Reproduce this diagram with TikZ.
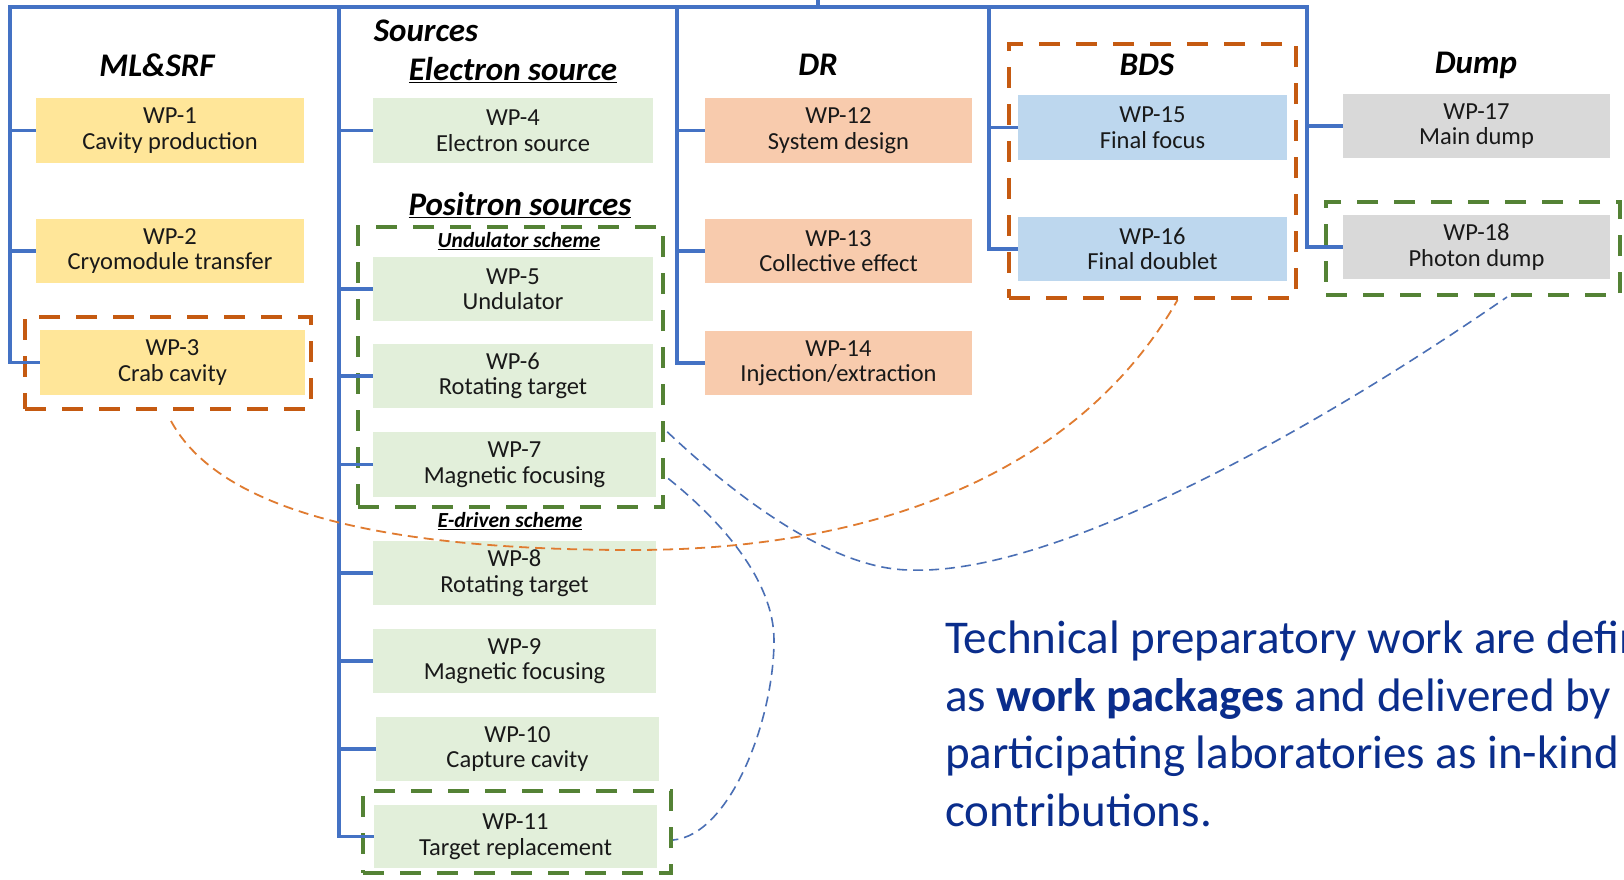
\documentclass[tikz,border=0pt]{standalone}
\usepackage{fontspec}
\setmainfont{Carlito}
\definecolor{treeblue}{HTML}{4472C4}
\definecolor{yel}{HTML}{FFE699}
\definecolor{grn}{HTML}{E2EFDA}
\definecolor{org}{HTML}{F8CBAD}
\definecolor{blu}{HTML}{BDD7EE}
\definecolor{gry}{HTML}{D9D9D9}
\definecolor{oframe}{HTML}{C55A11}
\definecolor{gframe}{HTML}{548235}
\definecolor{ocurve}{HTML}{E07B30}
\definecolor{bcurve}{HTML}{4A6FB5}
\definecolor{txtblue}{RGB}{10,45,140}
\tikzset{
  wp/.style={rectangle, inner sep=0pt, align=center, text=black!90,
    font=\fontsize{24.5}{25.5}\selectfont},
  tree/.style={draw=treeblue, line width=3.6pt},
  oframe/.style={draw=oframe, line width=4pt, dash pattern=on 21pt off 16pt, inner sep=0pt},
  gframe/.style={draw=gframe, line width=4pt, dash pattern=on 21pt off 16pt, inner sep=0pt},
  hdr/.style={font=\fontsize{33}{38}\selectfont\bfseries\itshape, inner sep=0pt},
  subhdr/.style={font=\fontsize{21.5}{25}\selectfont\bfseries\itshape, inner sep=0pt},
  ocon/.style={draw=ocurve, line width=1.8pt, dash pattern=on 10pt off 6pt},
  bcon/.style={draw=bcurve, line width=1.6pt, dash pattern=on 10pt off 6pt},
  para/.style={anchor=base west, inner sep=0pt, text=txtblue, font=\fontsize{47}{58}\selectfont}
}
\begin{document}
\begin{tikzpicture}[x=1pt,y=-1pt]
\useasboundingbox (0,0) rectangle (1624,879);
\clip (0,0) rectangle (1624,879);
\fill[white] (0,0) rectangle (1624,879);

% frames
\node[oframe, minimum width=286pt, minimum height=92pt] (f3) at (168,363) {};
\node[gframe, minimum width=305pt, minimum height=280pt] (fund) at (510.5,367) {};
\node[gframe, minimum width=308pt, minimum height=82pt] (f11) at (517,832) {};
\node[oframe, minimum width=287pt, minimum height=254pt] (fbds) at (1152.5,171) {};
\node[gframe, minimum width=294pt, minimum height=93pt] (fdump) at (1473,248.5) {};

% boxes
\node[wp, fill=yel, minimum width=268pt, minimum height=65pt] (wp1) at (170,130.5) {WP-1\\Cavity production};
\node[wp, fill=yel, minimum width=268pt, minimum height=64pt] (wp2) at (170,251) {WP-2\\Cryomodule transfer};
\node[wp, fill=yel, minimum width=265pt, minimum height=65pt] (wp3) at (172.5,362.5) {WP-3\\Crab cavity};

\node[wp, fill=grn, minimum width=280pt, minimum height=65pt] (wp4) at (513,130.5) {WP-4\\Electron source};
\node[wp, fill=grn, minimum width=280pt, minimum height=64pt] (wp5) at (513,289) {WP-5\\Undulator};
\node[wp, fill=grn, minimum width=280pt, minimum height=64pt] (wp6) at (513,376) {WP-6\\Rotating target};
\node[wp, fill=grn, minimum width=283pt, minimum height=65pt] (wp7) at (514.5,464.5) {WP-7\\Magnetic focusing};
\node[wp, fill=grn, minimum width=283pt, minimum height=64pt] (wp8) at (514.5,573) {WP-8\\Rotating target};
\node[wp, fill=grn, minimum width=283pt, minimum height=64pt] (wp9) at (514.5,661) {WP-9\\Magnetic focusing};
\node[wp, fill=grn, minimum width=283pt, minimum height=64pt] (wp10) at (517.5,749) {WP-10\\Capture cavity};
\node[wp, fill=grn, minimum width=283pt, minimum height=63pt] (wp11) at (515.5,836.5) {WP-11\\Target replacement};

\node[wp, fill=org, minimum width=267pt, minimum height=65pt] (wp12) at (838.5,130.5) {WP-12\\System design};
\node[wp, fill=org, minimum width=267pt, minimum height=64pt] (wp13) at (838.5,251) {WP-13\\Collective effect};
\node[wp, fill=org, minimum width=267pt, minimum height=64pt] (wp14) at (838.5,363) {WP-14\\Injection/extraction};

\node[wp, fill=blu, minimum width=269pt, minimum height=65pt] (wp15) at (1152.5,127.5) {WP-15\\Final focus};
\node[wp, fill=blu, minimum width=269pt, minimum height=64pt] (wp16) at (1152.5,249) {WP-16\\Final doublet};

\node[wp, fill=gry, minimum width=267pt, minimum height=64pt] (wp17) at (1476.5,126) {WP-17\\Main dump};
\node[wp, fill=gry, minimum width=267pt, minimum height=64pt] (wp18) at (1476.5,247) {WP-18\\Photon dump};

% headers
\node[hdr] (hml) at (157,65) {ML\&SRF};
\node[hdr] (hsrc) at (426,31) {Sources};
\node[hdr] (hel) at (513,70) {\underline{Electron source}};
\node[hdr] (hpos) at (520,205) {\underline{Positron sources}};
\node[subhdr] (hund) at (519,241) {\underline{Undulator scheme}};
\node[subhdr] (hedr) at (510,521) {\underline{E-driven scheme}};
\node[hdr] (hdr) at (818,65) {DR};
\node[hdr] (hbds) at (1147,65) {BDS};
\node[hdr] (hdump) at (1476,65) {Dump};

% tree
\coordinate (cml) at (10,7);
\coordinate (csrc) at (339,7);
\coordinate (cdr) at (677,7);
\coordinate (cbds) at (989,7);
\coordinate (cdump) at (1307,7);
\coordinate (ctop) at (818,0);
\draw[tree] ([xshift=-1.8pt]cml) -- ([xshift=1.8pt]cdump);
\draw[tree] (ctop) -- (ctop |- cml);
\draw[tree, line join=miter] (cml) |- (wp3.west);
\draw[tree] (wp1.west) -- (wp1.west -| cml);
\draw[tree] (wp2.west) -- (wp2.west -| cml);
\draw[tree, line join=miter] (csrc) |- (wp11.west);
\foreach \n in {wp4,wp5,wp6,wp7,wp8,wp9,wp10} \draw[tree] (\n.west) -- (\n.west -| csrc);
\draw[tree, line join=miter] (cdr) |- (wp14.west);
\draw[tree] (wp12.west) -- (wp12.west -| cdr);
\draw[tree] (wp13.west) -- (wp13.west -| cdr);
\draw[tree, line join=miter] (cbds) |- (wp16.west);
\draw[tree] (wp15.west) -- (wp15.west -| cbds);
\draw[tree, line join=miter] (cdump) |- (wp18.west);
\draw[tree] (wp17.west) -- (wp17.west -| cdump);

% dashed connectors
\draw[ocon] ([xshift=3pt,yshift=-10pt]f3.south) .. controls (230,530) and (450,550) .. (633,550)
  .. controls (880,550) and (1080,470) .. ([xshift=25pt]fbds.south);
\draw[bcon] ([xshift=11pt]wp7.north east) .. controls (750,510) and (840,570) .. (911,570)
  .. controls (1050,575) and (1300,440) .. ([xshift=34pt]fdump.south);
\draw[bcon] ([xshift=12pt,yshift=-14pt]wp7.east) .. controls (720,520) and (774,580) .. (774,640)
  .. controls (774,720) and (730,835) .. ([yshift=-8pt]f11.east);

% paragraph
\node[para] (t1) at (945,653) {Technical preparatory work are defined};
\node[para] (t2) at (945,711) {as \textbf{work packages} and delivered by};
\node[para] (t3) at (945,768) {participating laboratories as in-kind};
\node[para] (t4) at (945,826) {contributions.};
\end{tikzpicture}
\end{document}
